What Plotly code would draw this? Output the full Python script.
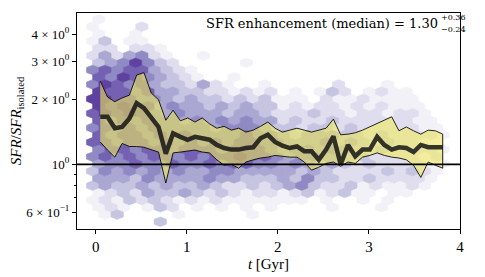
import math
import plotly.graph_objects as go

# ---------------- data ----------------
t_gyr = [0.05, 0.13, 0.21, 0.29, 0.37, 0.45, 0.53, 0.61, 0.69, 0.77, 0.85, 0.93,
         1.01, 1.09, 1.17, 1.25, 1.33, 1.41, 1.49, 1.57, 1.65, 1.73, 1.81, 1.89,
         1.97, 2.05, 2.13, 2.21, 2.29, 2.37, 2.45, 2.53, 2.61, 2.69, 2.77, 2.85,
         2.93, 3.01, 3.09, 3.17, 3.25, 3.33, 3.41, 3.49, 3.57, 3.65, 3.73, 3.81]

sfr_median = [1.66, 1.66, 1.47, 1.49, 1.63, 1.92, 1.82, 1.66, 1.49, 1.12, 1.39, 1.34,
              1.30, 1.34, 1.32, 1.30, 1.23, 1.19, 1.17, 1.17, 1.19, 1.20, 1.32, 1.37,
              1.27, 1.22, 1.19, 1.21, 1.15, 1.15, 1.05, 1.17, 1.35, 1.00, 1.23, 1.09,
              1.17, 1.17, 1.34, 1.23, 1.17, 1.20, 1.19, 1.14, 1.23, 1.20, 1.20, 1.20]

sfr_upper = [2.43, 2.05, 1.95, 2.03, 2.09, 2.59, 2.66, 2.14, 1.99, 1.60, 1.78, 1.59,
             1.64, 1.57, 1.64, 1.54, 1.47, 1.50, 1.44, 1.47, 1.41, 1.44, 1.50, 1.57,
             1.47, 1.41, 1.44, 1.47, 1.44, 1.41, 1.44, 1.47, 1.62, 1.37, 1.38, 1.40,
             1.44, 1.49, 1.54, 1.60, 1.66, 1.43, 1.49, 1.43, 1.38, 1.44, 1.43, 1.38]

sfr_lower = [1.27, 1.165, 1.08, 1.25, 1.21, 1.21, 1.20, 1.165, 1.14, 0.82, 1.13, 1.14,
             1.15, 1.165, 1.14, 1.13, 1.05, 0.99, 1.00, 0.96, 1.025, 1.05, 1.07, 1.08,
             1.10, 1.09, 1.08, 1.08, 1.025, 0.94, 0.97, 1.01, 1.025, 0.98, 1.025, 1.01,
             1.08, 1.10, 1.13, 1.10, 1.08, 1.07, 1.05, 0.99, 0.87, 1.025, 0.99, 0.96]

# hexbin counts (density level 0-8), bottom row first, one digit per hex cell
hex_rows = [
    "00000 3",
    "01300 00100 00010",
    "12101 32010 10101 00001 0001",
    "12132 32121 21111 11101 00101",
    "12324 33432 32122 12312 31101 1",
    "34334 34334 32232 34532 23121 121",
    "44435 44445 44333 43533 22322 221",
    "35454 54544 55444 44343 22223 2321",
    "45565 56556 56655 45434 32322 2211",
    "56565 66565 66766 54554 43322 2212",
    "56656 65666 56665 45545 43232 2221",
    "66566 56565 65665 54445 34323 2211",
    "65665 65655 55655 43444 33232 2221",
    "56565 65555 45554 33233 23222 2211",
    "65656 55454 54544 23223 22222 2110",
    "67676 54544 43443 22232 21221 2210",
    "76766 45443 43433 12122 12121 1100",
    "77665 54343 32323 11102 11211 1100",
    "76656 44332 21212 01013 20121 1",
    "57656 43324 21001 00000 20001",
    "65765 43210 01",
    "56566 4321",
    "34575 32000 001",
    "24245 21001",
    "22022 1",
    "13011",
    "1001",
    "10002",
    "1",
]

y_tick_vals = [0.6, 1, 2, 3, 4]
y_tick_text = ["6 × 10<sup>−1</sup>", "10<sup>0</sup>", "2 × 10<sup>0</sup>",
               "3 × 10<sup>0</sup>", "4 × 10<sup>0</sup>"]
y_minor_vals = [0.7, 0.8, 0.9]
x_tick_vals = [0, 1, 2, 3, 4]
reference_level = 1.0
x_range = [-0.205, 4.0]
y_range = [0.502, 5.02]

# ---------------- styling / geometry ----------------
HEX_X0 = -0.0335      # x of leftmost half-column
HEX_HALF_DX = 0.0675  # half hex width (Gyr)
HEX_LY0 = -0.2657     # log10 y of bottom row
HEX_DLY = 0.03345     # row spacing in log10 y

level_colors = {1: "#f3f1f8", 2: "#e0deee", 3: "#c6c5e1", 4: "#aaa7d2",
                5: "#8f8ac3", 6: "#7461b2", 7: "#5f419f", 8: "#4c1f8d"}

fig = go.Figure()

sx = 2 * HEX_HALF_DX
sy = 2 * HEX_DLY
offs = [(0.5, -1 / 6), (0.5, 1 / 6), (0.0, 1 / 3), (-0.5, 1 / 6), (-0.5, -1 / 6), (0.0, -1 / 3), (0.5, -1 / 6)]
polys = {}
for r, row in enumerate(hex_rows):
    cells = row.replace(" ", "")
    for j, ch in enumerate(cells):
        lvl = int(ch)
        if lvl == 0:
            continue
        k = 2 * j + (1 if r % 2 == 0 else 0)
        xc = HEX_X0 + k * HEX_HALF_DX
        lyc = HEX_LY0 + r * HEX_DLY
        xs, ys = polys.setdefault(lvl, ([], []))
        for ox, oy in offs:
            xs.append(xc + ox * sx)
            ys.append(10 ** (lyc + oy * sy))
        xs.append(None)
        ys.append(None)

for lvl in sorted(polys):
    xs, ys = polys[lvl]
    fig.add_trace(go.Scatter(x=xs, y=ys, mode="lines", fill="toself",
                             fillcolor=level_colors[lvl],
                             line=dict(color=level_colors[lvl], width=0.6),
                             hoverinfo="skip"))

# shaded band
fig.add_trace(go.Scatter(x=t_gyr + t_gyr[::-1], y=sfr_upper + sfr_lower[::-1],
                         mode="lines", fill="toself",
                         fillcolor="rgba(242,236,92,0.58)",
                         line=dict(color="rgba(0,0,0,0.85)", width=1)))
# median
fig.add_trace(go.Scatter(x=t_gyr, y=sfr_median, mode="lines",
                         line=dict(color="rgba(20,20,20,0.85)", width=4.5)))
# reference line
fig.add_trace(go.Scatter(x=x_range, y=[reference_level, reference_level], mode="lines",
                         line=dict(color="black", width=1.6)))

# the page body adds an 8px offset; the figure is sized/margined to compensate
FONT = "Liberation Serif"
fig.update_layout(
    width=477, height=269,
    margin=dict(l=69, r=25, t=5, b=48),
    plot_bgcolor="white", paper_bgcolor="white",
    showlegend=False,
    font=dict(family=FONT, size=13, color="black"),
    xaxis=dict(range=x_range, tickvals=x_tick_vals, ticks="outside", ticklen=4,
               tickcolor="black", showline=True, mirror=True, linecolor="black",
               linewidth=1, showgrid=False, zeroline=False, automargin=False,
               tickfont=dict(size=15),
               title=dict(text="<i>t</i> [Gyr]", font=dict(size=15), standoff=4)),
    yaxis=dict(type="log", range=[math.log10(y_range[0]), math.log10(y_range[1])],
               tickvals=y_tick_vals, ticktext=y_tick_text, ticks="outside", ticklen=4,
               tickcolor="black", showline=True, mirror=True, linecolor="black",
               linewidth=1, showgrid=False, zeroline=False, automargin=False,
               tickfont=dict(size=13),
               minor=dict(tickvals=y_minor_vals, ticks="outside", ticklen=2,
                          tickcolor="black", showgrid=False),
               title=dict(text="<i>SFR</i>/<i>SFR</i><sub>isolated</sub>",
                          font=dict(size=15), standoff=4)),
)

ANN_FONT = "DejaVu Serif"
fig.add_annotation(text="SFR enhancement (median) = 1.30", xref="paper", yref="paper",
                   x=0.947, y=0.95, xanchor="right", yanchor="middle",
                   showarrow=False, font=dict(size=13, family=ANN_FONT))
fig.add_annotation(text="+0.36", xref="paper", yref="paper", x=0.944, y=0.978,
                   xanchor="left", yanchor="middle", showarrow=False,
                   font=dict(size=8, family=ANN_FONT))
fig.add_annotation(text="−0.24", xref="paper", yref="paper", x=0.944, y=0.922,
                   xanchor="left", yanchor="middle", showarrow=False,
                   font=dict(size=8, family=ANN_FONT))

fig.write_html("out.html")
